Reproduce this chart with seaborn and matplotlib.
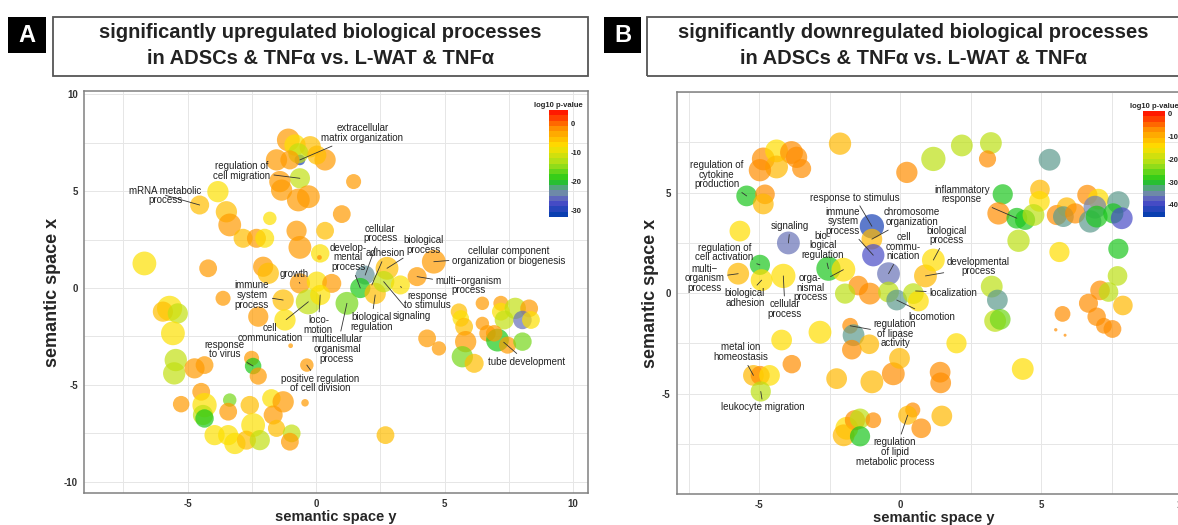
import numpy as np
import pandas as pd
import matplotlib
matplotlib.use("Agg")
import matplotlib.pyplot as plt
import matplotlib.cm as cm
from matplotlib.colors import LinearSegmentedColormap, Normalize
from matplotlib.patches import Rectangle
import seaborn as sns

# 全局风格
sns.set_style("white")
plt.rcParams['font.family'] = ['Liberation Sans', 'DejaVu Sans']
plt.rcParams['axes.unicode_minus'] = False

# ---------------- panel A: upregulated ----------------
a_x = [-0.63, -1.08, -0.82, -0.23, -0.69, -1.54, -1.02, 0.35, 0.03, -0.63,
       -1.41, -1.34, -0.69, -0.30, 1.46, 1.00, 0.35, -0.76, -0.63, 0.16,
       0.13, -2.06, -1.86, -0.63, 0.03, 0.61, -4.20, -6.68, -3.82, -4.53,
       -3.49, -3.36, -2.84, -2.32, -2.00, -1.80, 1.91, 1.72, 2.30, 2.76,
       2.63, 3.28, 3.93, 4.58, 1.20, -3.62, -5.70, -5.96, -5.38, -5.57,
       -2.25, -1.28, -1.21, -0.30, 0.16, -0.99, -5.46, -5.52, -4.73, -4.34,
       -2.51, -2.45, -2.25, -0.36, -0.43, -4.47, -5.25, -4.34, -4.40, -4.34,
       -3.36, -3.42, -2.58, -1.74, -1.28, -1.67, -2.45, -1.54, -0.95, -1.02,
       -3.95, -3.42, -3.16, -2.71, -2.19, 2.70, 4.32, 4.78, 5.56, 5.63,
       5.76, 5.82, 5.69, 6.15, 6.47, 6.47, 6.67, 7.19, 7.19, 7.32,
       7.75, 8.29, 8.03, 7.06, 7.45, 8.03, 6.93, 8.36]
a_y = [6.62, 7.65, 7.39, 7.30, 6.96, 6.62, 6.62, 6.62, 6.87, 5.67,
       5.50, 5.06, 4.55, 4.72, 5.50, 3.82, 2.96, 2.96, 2.10, 1.79,
       1.58, 1.10, 0.76, 0.24, 0.33, 0.24, 1.02, 1.27, 4.98, 4.29,
       3.94, 3.26, 2.57, 2.57, 2.57, 3.60, 0.67, 0.00, -0.28, 1.02,
       0.33, 0.16, 0.59, 1.36, -0.79, -0.53, -1.05, -1.22, -1.31, -2.34,
       -1.48, -0.62, -1.65, -0.71, -0.36, -2.98, -3.72, -4.41, -4.15, -3.98,
       -3.63, -4.03, -4.55, -3.98, -5.93, -5.36, -6.00, -6.05, -6.56, -6.74,
       -5.79, -6.39, -6.05, -5.70, -5.88, -6.56, -7.08, -7.25, -7.51, -7.94,
       -7.60, -7.60, -8.03, -7.86, -7.86, -7.60, -2.60, -3.12, -1.22, -1.57,
       -2.00, -2.77, -3.55, -3.89, -0.79, -1.83, -2.34, -0.79, -1.22, -1.65,
       -1.05, -1.05, -1.65, -2.69, -2.95, -2.77, -2.34, -1.65]
a_logp = [-31, -2, -8, -5, -12, -2, -2, -2, -5, -12,
          -2, -2, -2, -2, -2, -2, -5, -2, -2, -8,
          -1, -2, -5, -2, -8, -2, -2, -8, -8, -5,
          -5, -2, -5, -2, -8, -8, -24, -20, -5, -5,
          -12, -8, -2, -2, -16, -2, -8, -5, -12, -8,
          -2, -5, -8, -12, -8, -2, -12, -12, -2, -2,
          -2, -20, -2, -2, -2, -2, -2, -8, -12, -20,
          -16, -2, -5, -8, -2, -2, -8, -5, -12, -2,
          -8, -8, -8, -5, -12, -5, -2, -2, -5, -8,
          -5, -2, -16, -5, -2, -2, -2, -2, -8, -12,
          -12, -2, -26, -20, -2, -16, -2, -8]
a_size = [0.5, 2.3, 2.0, 2.0, 1.8, 2.0, 1.6, 2.0, 1.6, 1.8,
          2.0, 2.0, 2.3, 2.3, 1.0, 1.4, 1.4, 1.8, 2.3, 1.5,
          0.1, 1.8, 2.0, 1.8, 1.8, 1.6, 1.4, 2.5, 2.0, 1.6,
          2.0, 2.3, 1.6, 1.6, 1.6, 0.8, 1.6, 1.8, 2.0, 2.3,
          2.0, 1.6, 1.6, 2.5, 2.3, 1.0, 2.8, 1.8, 1.8, 2.5,
          1.8, 2.0, 2.0, 2.8, 1.8, 0.1, 2.2, 2.2, 1.8, 1.4,
          1.0, 1.2, 1.3, 0.8, 0.25, 1.4, 1.2, 2.6, 1.8, 1.5,
          0.8, 1.4, 1.5, 1.5, 2.0, 1.6, 2.5, 1.3, 1.4, 1.4,
          1.8, 1.8, 2.0, 1.6, 1.8, 1.4, 1.4, 0.9, 1.2, 1.2,
          1.4, 2.0, 2.0, 1.6, 0.8, 0.8, 1.2, 1.0, 1.4, 1.6,
          2.0, 1.4, 1.5, 2.3, 1.3, 1.5, 1.2, 1.4]

a_terms = ["extracellular\nmatrix organization", "regulation of\ncell migration",
           "mRNA metabolic\nprocess", "cellular\nprocess", "develop-\nmental\nprocess",
           "adhesion", "biological\nprocess", "cellular component\norganization or biogenesis",
           "multi\u2212organism\nprocess", "growth", "immune\nsystem\nprocess",
           "cell\ncommunication", "loco-\nmotion", "multicellular\norganismal\nprocess",
           "biological\nregulation", "response\nto stimulus", "signaling",
           "response\nto virus", "positive regulation\nof cell division", "tube development"]
a_term_xy = [(-0.63, 6.62), (-0.63, 5.67), (-4.53, 4.29), (1.91, 0.67), (1.72, 0.0),
             (2.17, 0.16), (2.76, 1.02), (4.58, 1.36), (3.93, 0.59), (-0.63, 0.24),
             (-1.28, -0.62), (-0.30, -0.71), (0.16, -0.36), (1.20, -0.79), (2.30, -0.36),
             (3.28, 0.07), (2.63, 0.33), (-2.45, -4.03), (-0.36, -3.98), (7.30, -2.80)]
a_text_xy = [(1.80, 8.01), (-2.88, 6.05), (-5.86, 4.79), (2.50, 2.81), (1.26, 1.58),
             (2.70, 1.79), (4.19, 2.22), (7.50, 1.67), (5.95, 0.14), (-0.85, 0.72),
             (-2.50, -0.36), (-1.80, -2.31), (0.09, -1.91), (0.81, -3.15), (2.15, -1.74),
             (4.32, -0.64), (3.74, -1.43), (-3.55, -3.17), (0.16, -4.93), (8.18, -3.81)]

# ---------------- panel B: downregulated ----------------
b_x = [-2.13, 0.24, 1.18, -4.85, -4.38, -3.85, -3.67, -3.49, -4.38, -4.97,
       -5.44, -4.79, -4.85, -5.68, -3.96, -4.97, -5.74, -4.91, -4.14, -2.54,
       -2.01, -1.00, -1.00, -0.95, -0.41, -1.48, -1.07, -1.95, -0.41, -0.12,
       0.47, 0.65, 0.90, 1.18, 2.19, 3.22, 3.10, 5.30, 3.64, 4.96,
       4.94, 3.49, 4.14, 4.43, 4.73, 4.20, 5.65, 5.56, 5.91, 5.79,
       6.21, 6.64, 7.03, 6.91, 6.74, 6.97, 7.74, 7.56, 7.86, 7.74,
       7.71, 7.09, 7.39, 3.25, 3.45, 3.37, 3.55, 2.00, 1.42, 1.44,
       4.35, 0.45, 0.27, 1.48, 0.75, 5.76, 5.52, 5.85, 6.68, 6.97,
       7.23, 7.53, 7.90, -1.77, -1.65, -1.71, -1.09, -2.84, -4.20, -3.84,
       -5.20, -4.96, -4.63, -4.94, -2.25, -1.00, -0.24, -0.02, -1.89, -1.60,
       -1.42, -2.00, -1.42, -0.95]
b_y = [7.43, 6.00, 6.67, 6.67, 7.07, 6.99, 6.75, 6.19, 6.27, 6.11,
       4.83, 4.91, 4.43, 3.08, 2.49, 1.40, 0.96, 0.64, 0.85, 1.21,
       1.16, 3.32, 2.68, 1.88, 0.96, 0.37, -0.03, -0.03, 0.05, -0.35,
       -0.03, -0.40, 0.85, 1.64, 7.34, 7.46, 6.67, 6.63, 4.91, 5.15,
       4.56, 3.96, 3.72, 3.64, 3.88, 2.60, 2.04, 3.88, 4.27, 3.80,
       3.96, 4.88, 4.67, 4.27, 3.56, 3.80, 4.51, 3.96, 3.72, 2.20,
       0.85, 0.13, 0.05, 0.32, -0.35, -1.39, -1.31, -2.50, -3.94, -4.47,
       -3.78, -5.82, -6.08, -6.12, -6.73, -1.04, -1.83, -2.10, -0.51, -1.18,
       -1.63, -1.79, -0.62, -1.63, -2.10, -2.82, -2.55, -1.95, -2.34, -3.54,
       -4.10, -4.10, -4.10, -4.90, -4.26, -4.42, -4.02, -3.25, -6.73, -6.33,
       -6.25, -7.08, -7.13, -6.33]
b_logp = [-10, -6, -20, -6, -14, -6, -6, -6, -10, -6,
          -30, -6, -10, -14, -37, -30, -10, -14, -14, -30,
          -14, -44, -10, -40, -37, -6, -6, -20, -20, -34,
          -20, -14, -10, -14, -20, -20, -6, -34, -30, -10,
          -14, -6, -30, -30, -20, -20, -14, -6, -10, -34,
          -6, -6, -14, -36, -34, -30, -34, -30, -40, -30,
          -20, -6, -20, -20, -34, -20, -25, -14, -6, -6,
          -14, -6, -10, -10, -6, -6, -6, -6, -6, -6,
          -6, -6, -10, -6, -34, -6, -10, -14, -14, -6,
          -10, -6, -14, -20, -10, -10, -6, -10, -14, -6,
          -20, -10, -30, -6]
b_size = [2.2, 2.0, 2.6, 2.3, 2.3, 2.3, 2.0, 1.6, 2.3, 2.2,
          1.9, 1.7, 1.9, 1.9, 2.3, 1.8, 2.1, 2.1, 2.6, 2.6,
          2.5, 2.6, 1.9, 2.2, 2.3, 1.7, 2.1, 1.8, 1.9, 1.9,
          1.9, 1.9, 2.3, 2.3, 2.1, 2.1, 1.3, 2.1, 1.8, 1.7,
          1.9, 2.2, 1.9, 1.8, 2.1, 2.2, 1.8, 1.8, 1.7, 1.9,
          1.8, 1.8, 1.9, 2.3, 2.2, 2.1, 2.2, 1.8, 2.1, 1.8,
          1.7, 1.7, 1.7, 2.1, 1.9, 2.1, 1.9, 1.8, 1.9, 1.9,
          2.1, 1.0, 1.6, 1.9, 1.7, 1.1, 0.05, 0.04, 1.6, 1.5,
          1.1, 1.4, 1.7, 1.1, 2.1, 1.7, 1.7, 2.3, 1.9, 1.5,
          1.9, 1.6, 1.9, 1.8, 1.9, 2.3, 2.3, 1.9, 2.3, 1.8,
          1.8, 2.1, 1.8, 1.1]

b_terms = ["regulation of\ncytokine\nproduction", "response to stimulus",
           "immune\nsystem\nprocess", "chromosome\norganization", "cell\ncommu-\nnication",
           "signaling", "bio-\nlogical\nregulation", "regulation of\ncell activation",
           "multi\u2212\norganism\nprocess", "biological\nadhesion", "cellular\nprocess",
           "orga-\nnismal\nprocess", "biological\nprocess", "developmental\nprocess",
           "localization", "inflammatory\nresponse", "locomotion",
           "regulation\nof lipase\nactivity", "metal ion\nhomeostasis", "leukocyte migration",
           "regulation\nof lipid\nmetabolic process"]
b_term_xy = [(-5.44, 4.83), (-1.00, 3.32), (-0.95, 1.88), (-1.00, 2.68), (-0.41, 0.96),
             (-3.96, 2.49), (-2.54, 1.21), (-4.97, 1.40), (-5.74, 0.96), (-4.91, 0.64),
             (-4.14, 0.85), (-2.01, 1.16), (1.18, 1.64), (0.90, 0.85), (0.55, 0.10),
             (4.14, 3.72), (-0.12, -0.35), (-1.77, -1.63), (-5.20, -4.10), (-4.94, -4.90),
             (0.27, -6.08)]
b_text_xy = [(-6.50, 5.89), (-1.60, 4.75), (-2.03, 3.56), (0.42, 3.78), (0.12, 2.31),
             (-3.90, 3.32), (-2.74, 2.38), (-6.23, 2.02), (-6.94, 0.73), (-5.50, -0.26),
             (-4.08, -0.80), (-3.19, 0.27), (1.65, 2.87), (2.78, 1.31), (1.89, 0.02),
             (2.19, 4.90), (1.12, -1.20), (-0.18, -2.03), (-5.65, -2.95), (-4.85, -5.69),
             (-0.18, -7.91)]

# REVIGO 风格的颜色：蓝-绿-黄-红
revigo = LinearSegmentedColormap.from_list("revigo", [
    (0.00, "#0a3fb0"), (0.12, "#4d4dc8"), (0.20, "#7383b0"), (0.27, "#4fa878"),
    (0.333, "#19c819"), (0.50, "#a6e01a"), (0.667, "#ffe000"), (0.83, "#ff9800"),
    (1.00, "#ff1a00")])

W, H = 1178, 525


def px_rect(x0, y0, x1, y1):
    return [x0 / W, 1 - y1 / H, (x1 - x0) / W, (y1 - y0) / H]


def draw_panel(ax, cax, xs, ys, logp, size, norm, xlim, ylim, yticks, cticks,
               terms, term_xy, text_xy):
    df = pd.DataFrame({'plot_x': xs, 'plot_y': ys, 'log10_p': logp, 'log_size': size})
    sns.scatterplot(data=df, x='plot_x', y='plot_y', hue='log10_p', palette=revigo,
                    hue_norm=norm, size='log_size', sizes=(0, 470), size_norm=(0, 4),
                    alpha=0.7, linewidth=0, legend=False, ax=ax, zorder=2)
    ax.set_xlim(*xlim)
    ax.set_ylim(*ylim)
    ax.set_xticks([-5, 0, 5, 10])
    ax.set_xticks(np.arange(-7.5, 12, 2.5), minor=True)
    ax.set_yticks(yticks)
    ax.set_yticks(np.arange(-10, 11, 2.5), minor=True)
    ax.grid(which='both', color='#e6e6e6', lw=0.7)
    ax.set_axisbelow(True)
    ax.tick_params(which='major', length=3, width=0.8, color='#555555',
                   labelsize=7, labelcolor='#333333', pad=1.5)
    ax.tick_params(which='minor', length=0)
    for lab in ax.get_xticklabels() + ax.get_yticklabels():
        lab.set_fontweight('bold')
    for sp in ax.spines.values():
        sp.set_color('#808080')
        sp.set_linewidth(1.1)
    ax.set_xlabel("semantic space y", fontsize=10.5, fontweight='bold', labelpad=0.5)
    ax.set_ylabel("semantic space x", fontsize=13, fontweight='bold', labelpad=2)

    for t, p, q in zip(terms, term_xy, text_xy):
        ax.annotate(t, xy=p, xytext=q, ha='center', va='center', fontsize=7,
                    color='#222222', linespacing=0.95, zorder=4,
                    arrowprops=dict(arrowstyle='-', color='#333333', lw=0.6,
                                    shrinkA=0, shrinkB=0))

    sm = cm.ScalarMappable(norm=norm, cmap=revigo.resampled(20))
    cb = plt.colorbar(sm, cax=cax)
    cb.set_ticks(cticks)
    cb.outline.set_visible(False)
    cb.ax.tick_params(labelsize=5.5, length=3, direction='in', color='white', pad=2)
    for lab in cb.ax.get_yticklabels():
        lab.set_fontweight('bold')
    cax.set_title("log10 p-value", fontsize=5.5, fontweight='bold', pad=2.5)


fig = plt.figure(figsize=(W / 100, H / 100), dpi=100)

ax_a = fig.add_axes(px_rect(84, 91, 588, 493))
cax_a = fig.add_axes(px_rect(549, 110, 568, 217))
draw_panel(ax_a, cax_a, a_x, a_y, a_logp, a_size, Normalize(-32.4, 4.5),
           (-9.03, 10.58), (-10.59, 10.18), [-10, -5, 0, 5, 10], [0, -10, -20, -30],
           a_terms, a_term_xy, a_text_xy)

ax_b = fig.add_axes(px_rect(677, 92, 1190, 494))
cax_b = fig.add_axes(px_rect(1143, 111, 1165, 217))
draw_panel(ax_b, cax_b, b_x, b_y, b_logp, b_size, Normalize(-45.3, 1.3),
           (-7.91, 10.28), (-9.47, 9.76), [-5, 0, 5], [0, -10, -20, -30, -40],
           b_terms, b_term_xy, b_text_xy)

# 标题框和面板字母
titles = [("A", (8, 17, 46, 53), (53, 17, 588, 76),
           "significantly upregulated biological processes"),
          ("B", (604, 17, 641, 53), (647, 17, 1180, 76),
           "significantly downregulated biological processes")]
for letter, sq, box, line1 in titles:
    x0, y0, x1, y1 = sq
    fig.add_artist(Rectangle((x0 / W, 1 - y1 / H), (x1 - x0) / W, (y1 - y0) / H,
                             transform=fig.transFigure, fc='black', ec='none'))
    fig.text((x0 + x1) / 2 / W, 1 - (y0 + y1) / 2 / H, letter, color='white',
             fontsize=17, fontweight='bold', ha='center', va='center')
    x0, y0, x1, y1 = box
    fig.add_artist(Rectangle((x0 / W, 1 - y1 / H), (x1 - x0) / W, (y1 - y0) / H,
                             transform=fig.transFigure, fill=False, ec='#555555', lw=1.3))
    cx = (x0 + x1) / 2 / W
    fig.text(cx, 1 - 33 / H, line1, fontsize=14.5, fontweight='bold',
             color='#222222', ha='center', va='center')
    fig.text(cx, 1 - 58 / H, "in ADSCs & TNF\u03b1 vs. L-WAT & TNF\u03b1", fontsize=14.5,
             fontweight='bold', color='#222222', ha='center', va='center')

fig.savefig("out.png", dpi=100)
